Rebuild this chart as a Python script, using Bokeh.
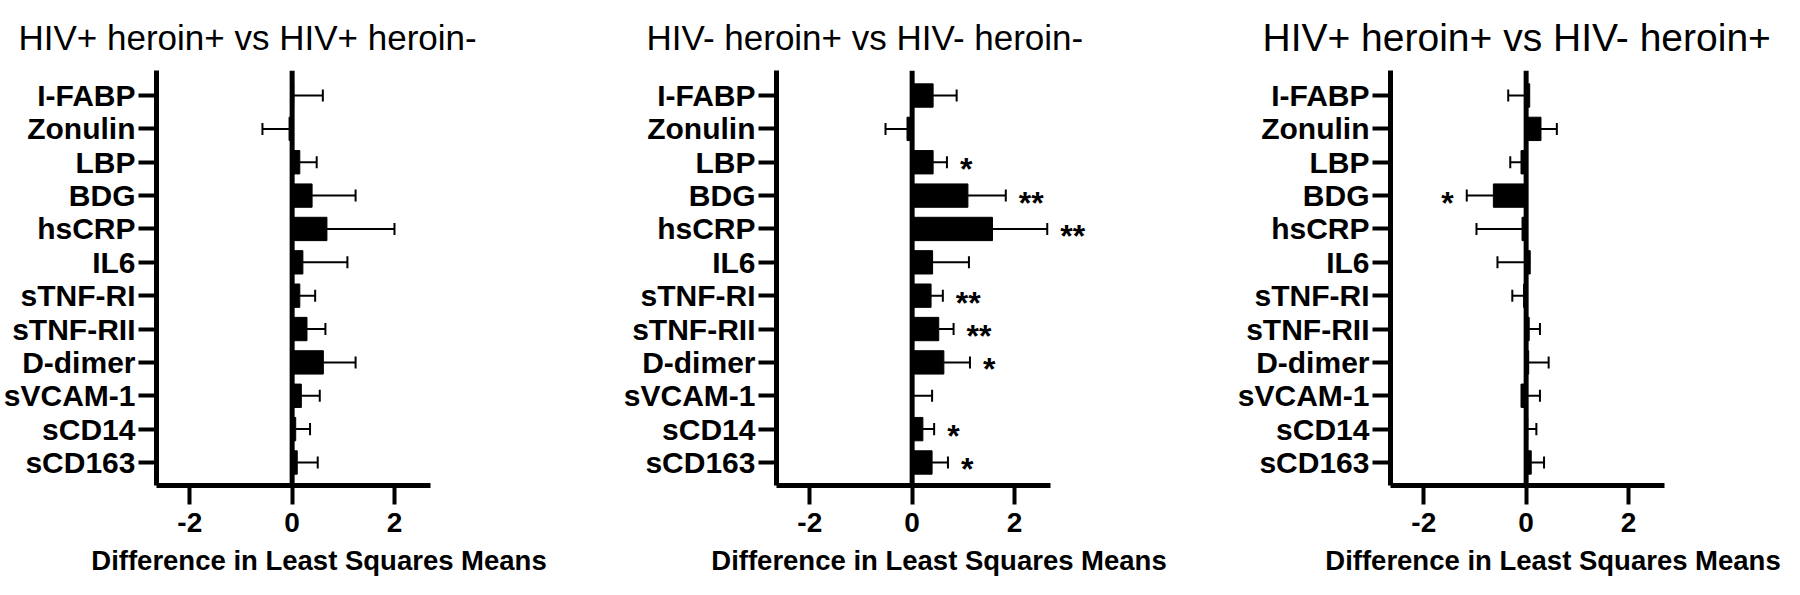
from bokeh.plotting import figure
from bokeh.layouts import row
from bokeh.models import Range1d, FixedTicker, Span, ColumnDataSource, LabelSet
from bokeh.core.properties import value
from bokeh.embed import file_html
from bokeh.resources import INLINE

markers = ["I-FABP", "Zonulin", "LBP", "BDG", "hsCRP", "IL6", "sTNF-RI",
           "sTNF-RII", "D-dimer", "sVCAM-1", "sCD14", "sCD163"]

titles = ["HIV+ heroin+ vs HIV+ heroin-",
          "HIV- heroin+ vs HIV- heroin-",
          "HIV+ heroin+ vs HIV- heroin+"]

p1_mean = [0.03, -0.06, 0.15, 0.39, 0.68, 0.21, 0.15, 0.29, 0.61, 0.18, 0.07, 0.10]
p1_err = [0.60, -0.58, 0.48, 1.24, 2.00, 1.08, 0.45, 0.65, 1.24, 0.54, 0.35, 0.50]
p1_sig = ["", "", "", "", "", "", "", "", "", "", "", ""]

p2_mean = [0.41, -0.10, 0.41, 1.09, 1.57, 0.40, 0.37, 0.52, 0.62, 0.02, 0.21, 0.39]
p2_err = [0.87, -0.52, 0.68, 1.83, 2.64, 1.11, 0.60, 0.81, 1.13, 0.39, 0.43, 0.70]
p2_sig = ["", "", "*", "**", "**", "", "**", "**", "*", "", "*", "*"]

p3_mean = [0.07, 0.29, -0.10, -0.64, -0.08, 0.08, -0.05, 0.06, 0.05, -0.10, 0.03, 0.10]
p3_err = [-0.35, 0.60, -0.31, -1.16, -0.97, -0.56, -0.27, 0.27, 0.44, 0.27, 0.20, 0.35]
p3_sig = ["", "", "", "*", "", "", "", "", "", "", "", ""]

x_ticks = [-2, 0, 2]
x_tick_labels = ["-2", "0", "2"]
x_axis_title = "Difference in Least Squares Means"

FONT = "Liberation Sans"


def make_panel(title, means, errs, sigs, width, right_border, title_offset,
               title_size, title_standoff):
    ys = list(range(len(markers)))
    p = figure(width=width, height=587, output_backend="svg", toolbar_location=None,
               x_range=Range1d(-2.65, 3.7), y_range=Range1d(11.69, -0.75),
               min_border_left=153, min_border_right=right_border, min_border_top=70,
               min_border_bottom=102)
    p.outline_line_color = None
    p.xgrid.visible = False
    p.ygrid.visible = False
    p.background_fill_color = "white"

    p.title.text = title
    p.title.align = "left"
    p.title.offset = title_offset
    p.title.text_font = FONT
    p.title.text_font_style = "normal"
    p.title.text_font_size = title_size
    p.title.text_color = "black"
    p.title.standoff = title_standoff

    src = ColumnDataSource(dict(y=ys, m=means, e=errs,
                                c0=[y - 0.18 for y in ys], c1=[y + 0.18 for y in ys]))
    p.hbar(y="y", left=0, right="m", height=0.7, source=src,
           fill_color="black", line_color="black", line_width=1)
    p.segment(x0="m", x1="e", y0="y", y1="y", source=src, line_color="black", line_width=2)
    p.segment(x0="e", x1="e", y0="c0", y1="c1", source=src, line_color="black", line_width=2)

    zero = Span(location=0, dimension="height", line_color="black", line_width=5)
    p.add_layout(zero)

    pos = dict(x=[], y=[], t=[])
    neg = dict(x=[], y=[], t=[])
    for y, e, s in zip(ys, errs, sigs):
        if not s:
            continue
        d = pos if e >= 0 else neg
        d["x"].append(e)
        d["y"].append(y)
        d["t"].append(s)
    for d, align, off in ((pos, "left", 13), (neg, "right", -13)):
        if d["x"]:
            ls = LabelSet(x="x", y="y", text="t", source=ColumnDataSource(d),
                          text_align=align, text_baseline="middle", x_offset=off, y_offset=-7,
                          text_font=value(FONT), text_font_style="bold",
                          text_font_size="32px", text_color="black")
            p.add_layout(ls)

    xa = p.xaxis[0]
    xa.bounds = (-2.65, 2.7)
    xa.ticker = FixedTicker(ticks=x_ticks)
    xa.major_label_overrides = {t: l for t, l in zip(x_ticks, x_tick_labels)}
    xa.minor_tick_line_color = None
    xa.axis_line_width = 5
    xa.axis_line_color = "black"
    xa.major_tick_line_width = 4
    xa.major_tick_line_color = "black"
    xa.major_tick_out = 19
    xa.major_tick_in = 0
    xa.major_label_standoff = 8
    xa.major_label_text_font = FONT
    xa.major_label_text_font_style = "bold"
    xa.major_label_text_font_size = "28px"
    xa.major_label_text_color = "black"
    xa.axis_label = x_axis_title
    xa.axis_label_text_font = FONT
    xa.axis_label_text_font_style = "bold"
    xa.axis_label_text_font_size = "27.5px"
    xa.axis_label_text_color = "black"
    xa.axis_label_standoff = 10

    ya = p.yaxis[0]
    ya.ticker = FixedTicker(ticks=ys)
    ya.major_label_overrides = {y: m for y, m in zip(ys, markers)}
    ya.minor_tick_line_color = None
    ya.axis_line_width = 5
    ya.axis_line_color = "black"
    ya.major_tick_line_width = 4
    ya.major_tick_line_color = "black"
    ya.major_tick_out = 18
    ya.major_tick_in = 0
    ya.major_label_standoff = 3
    ya.major_label_text_font = FONT
    ya.major_label_text_font_style = "bold"
    ya.major_label_text_font_size = "30px"
    ya.major_label_text_color = "black"
    return p


p1 = make_panel(titles[0], p1_mean, p1_err, p1_sig, 620, 139, -138, "35px", 28)
p2 = make_panel(titles[1], p2_mean, p2_err, p2_sig, 614, 133, -130, "35px", 28)
p3 = make_panel(titles[2], p3_mean, p3_err, p3_sig, 550, 69, -128, "39px", 24)

layout = row(p1, p2, p3)
open("out.html", "w").write(file_html(layout, INLINE))
